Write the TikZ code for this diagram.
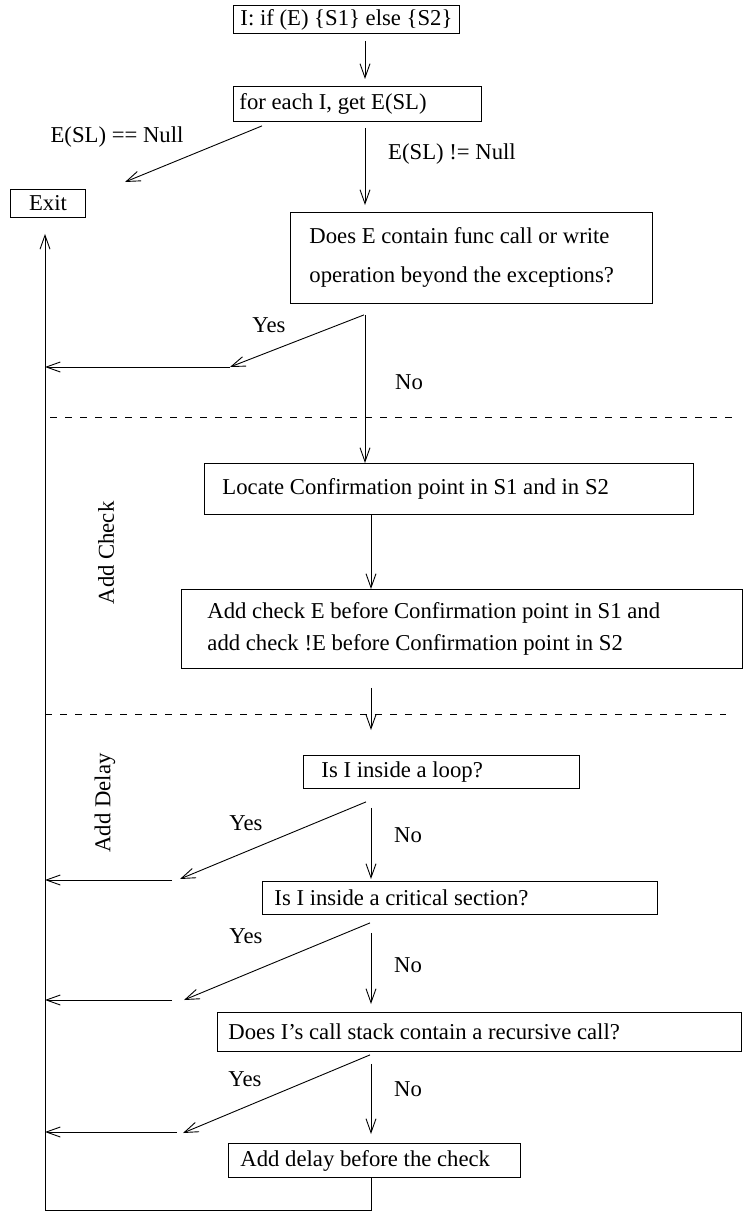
\documentclass[tikz,border=0pt]{standalone}
\usepackage{fontspec}
\setmainfont{Liberation Serif}
\usetikzlibrary{arrows.meta}
\usetikzlibrary{calc}
\tikzstyle{fbox}=[draw,line width=.9pt,anchor=north west,inner ysep=0pt,align=flush left]
\tikzstyle{flow}=[line width=.9pt,-{Straight Barb[length=14pt,width=10pt]}]
\tikzstyle{sep} =[line width=.9pt,dash pattern=on 7pt off 8pt]
\newcommand\twolines[1]{\fontsize{22.7}{#1}\selectfont}

\begin{document}
\begin{tikzpicture}[x=1pt,y=-1pt,font=\fontsize{22.7}{27}\selectfont]
	\useasboundingbox (0,0) rectangle (743,1212);
	% boxes
	\node[fbox,minimum width=226pt,minimum height=28pt,align=center] (start) at (233,5) {I: if (E) \{S1\} else \{S2\}};
	\node[fbox,minimum height=35pt,inner xsep=6pt,text width=236pt] (forall) at (233,86) {for each I, get E(SL)};
	\node[fbox,minimum width=75pt,minimum height=28pt,align=center] (exit) at (10,189) {Exit};
	\node[fbox,minimum height=91pt,inner xsep=19pt,text width=324pt,font=\twolines{39}] (contain) at (290,212) {Does E contain func call or write\\operation beyond the exceptions?};
	\node[fbox,minimum height=51pt,inner xsep=18pt,text width=453pt] (locate) at (204,463) {Locate Confirmation point in S1 and in S2};
	\node[fbox,minimum height=79pt,inner xsep=26pt,text width=509pt,font=\twolines{32}] (addchk) at (181,589) {Add check E before Confirmation point in S1 and\\add check !E before Confirmation point in S2};
	\node[fbox,minimum height=33pt,inner xsep=18pt,text width=240pt] (loop) at (303,755) {Is I inside a loop?};
	\node[fbox,minimum height=33pt,inner xsep=12pt,text width=371pt] (crit) at (262,881) {Is I inside a critical section?};
	\node[fbox,minimum height=39pt,inner xsep=11pt,text width=502pt] (recur) at (217,1012) {Does I's call stack contain a recursive call?};
	\node[fbox,minimum height=34pt,inner xsep=12pt,text width=268pt] (delay) at (228,1143) {Add delay before the check};
	% labels
	\node (null) at (117,137) {E(SL) == Null};
	\node (notnull) at (452,154) {E(SL) != Null};
	\node (yesA) at (269,325) {Yes};
	\node (noA) at (409,382) {No};
	\node (yesB) at (246,823) {Yes};
	\node (noB) at (408,835) {No};
	\node (yesC) at (246,936) {Yes};
	\node (noC) at (408,965) {No};
	\node (yesD) at (245,1079) {Yes};
	\node (noD) at (408,1089) {No};
	\node[rotate=90] (check) at (106,553) {Add Check};
	\node[rotate=90] (delaytag) at (105,803) {Add Delay};
	% separators
	\draw[sep] (50,417) -- (732,417);
	\draw[sep] (45,714) -- (726,714);
	% main flow
	\coordinate (spine) at (365,0);
	\coordinate (spineb) at (371,0);
	\coordinate (rail) at (45,1210);
	\draw[flow,shorten <=7pt,shorten >=7pt] (start.south -| spine) -- (forall.north -| spine);
	\draw[flow,shorten <=6pt,shorten >=7pt] (forall.south -| spine) -- (contain.north -| spine);
	\draw[flow,shorten <=11pt] (contain.south -| spine) -- (locate.north -| spine);
	\draw[flow] (locate.south -| spineb) -- (addchk.north -| spineb);
	\draw[flow,shorten <=19pt,shorten >=25pt] (addchk.south -| spineb) -- (loop.north -| spineb);
	\draw[flow,shorten <=19pt,shorten >=2pt] (loop.south -| spineb) -- (crit.north -| spineb);
	\draw[flow,shorten <=18pt,shorten >=8pt] (crit.south -| spineb) -- (recur.north -| spineb);
	\draw[flow,shorten <=12pt,shorten >=9pt] (recur.south -| spineb) -- (delay.north -| spineb);
	\draw[flow,shorten >=16pt] (delay.south -| spineb) -- (rail -| spineb) -- (rail) -- (exit.south -| rail);
	% exits
	\coordinate (nullend) at (125,182);
	\draw[flow] ($(forall.south west)+(29,4)$) -- (nullend);
	\coordinate (yesAend) at (230,367);
	\draw[flow] ($(contain.south -| spine)+(-1,11)$) -- (yesAend);
	\draw[flow] (yesAend) -- (yesAend -| rail);
	\coordinate (yesBend) at (180,879);
	\coordinate (yesBback) at (172,880);
	\draw[flow] ($(loop.south -| spine)+(1,13)$) -- (yesBend);
	\draw[flow] (yesBback) -- (yesBback -| rail);
	\coordinate (yesCend) at (184,1000);
	\coordinate (yesCback) at (172,1000);
	\draw[flow] ($(crit.south -| spineb)+(-1,8)$) -- (yesCend);
	\draw[flow] (yesCback) -- (yesCback -| rail);
	\coordinate (yesDend) at (183,1133);
	\coordinate (yesDback) at (177,1132);
	\draw[flow] ($(recur.south -| spineb)+(-1,3)$) -- (yesDend);
	\draw[flow] (yesDback) -- (yesDback -| rail);
\end{tikzpicture}
\end{document}
